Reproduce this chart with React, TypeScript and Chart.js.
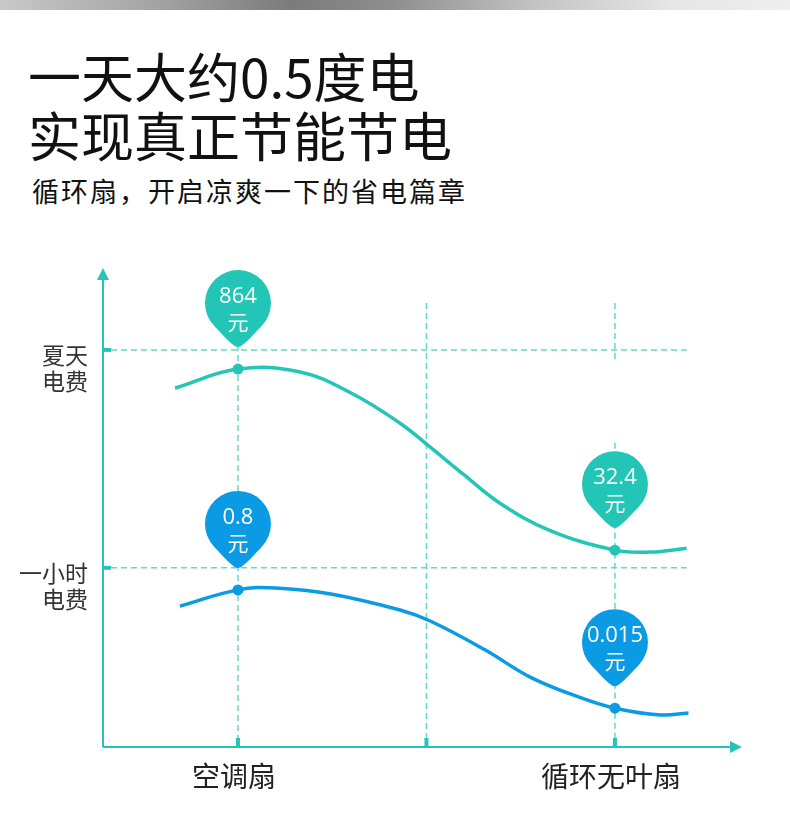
import React, { useEffect, useRef } from "react";
import { Chart, registerables } from "chart.js";
Chart.register(...registerables);

// ---- data ----
const categories = ["空调扇", "循环无叶扇"];
const categoryX = [1, 3];
const midX = 2;

const summerX = [0.666, 1, 1.33, 1.6, 1.86, 2.02, 2.2, 2.39, 2.65, 3, 3.19, 3.38];
const summerY = [74.9, 78.9, 78.3, 73.9, 67.6, 62.6, 56.8, 50.9, 45.3, 41.1, 40.7, 41.5];
const hourX = [0.692, 1, 1.2, 1.5, 1.86, 2.02, 2.31, 2.55, 2.81, 3, 3.24, 3.39];
const hourY = [29.4, 32.8, 33.2, 31.9, 28.6, 26.3, 20.3, 14.6, 10.4, 8.1, 6.7, 7.1];

const summerPins = ["864", "32.4"];
const hourPins = ["0.8", "0.015"];
const pinUnit = "元";

const levelValues = [82.9, 37.4];
const levelLabels = [["夏天", "电费"], ["一小时", "电费"]];

const TEAL = "#23c6b6";
const BLUE = "#0b9be4";
const DASH = "#5fd9cc";

function drawPin(ctx: CanvasRenderingContext2D, x: number, tipY: number, color: string, value: string) {
  const r = 33;
  const h = 44;
  const cy = tipY - h;
  const a = 0.8;
  const px = r * Math.sin(a);
  const py = r * Math.cos(a);
  const k = 10;
  ctx.save();
  ctx.beginPath();
  ctx.arc(x, cy, r, Math.PI / 2 + a, Math.PI / 2 - a);
  ctx.bezierCurveTo(x + px - Math.cos(a) * k, cy + py + Math.sin(a) * k, x + 5, tipY, x, tipY);
  ctx.bezierCurveTo(x - 5, tipY, x - px + Math.cos(a) * k, cy + py + Math.sin(a) * k, x - px, cy + py);
  ctx.closePath();
  ctx.fillStyle = color;
  ctx.fill();
  ctx.fillStyle = "#ffffff";
  ctx.textAlign = "center";
  ctx.textBaseline = "middle";
  ctx.font = '22px "Open Sans", "Noto Sans", sans-serif';
  ctx.fillText(value, x, cy - 6);
  ctx.font = '21px "Noto Sans CJK SC", sans-serif';
  ctx.fillText(pinUnit, x, cy + 19);
  ctx.restore();
}

const decorPlugin = {
  id: "decor",
  beforeDatasetsDraw(chart: any) {
    const ctx: CanvasRenderingContext2D = chart.ctx;
    const xs = chart.scales.x;
    const ys = chart.scales.y;
    const left = xs.getPixelForValue(xs.min);
    const right = xs.getPixelForValue(xs.max);
    const bottom = ys.getPixelForValue(0);
    const top = ys.getPixelForValue(ys.max);
    ctx.save();

    // dashed guides
    ctx.strokeStyle = DASH;
    ctx.lineWidth = 1.5;
    ctx.setLineDash([6, 4]);
    const hEnd = xs.getPixelForValue(3.38);
    levelValues.forEach((v) => {
      const y = ys.getPixelForValue(v);
      ctx.beginPath();
      ctx.moveTo(left + 8, y);
      ctx.lineTo(hEnd, y);
      ctx.stroke();
    });
    const vSegs: [number, number, number][] = [
      [categoryX[0], 83.9, 0],
      [midX, 92.7, 0],
      [categoryX[1], 92.7, 80.4],
      [categoryX[1], 63.5, 0],
    ];
    vSegs.forEach(([xv, y1, y2]) => {
      const x = xs.getPixelForValue(xv);
      ctx.beginPath();
      ctx.moveTo(x, ys.getPixelForValue(y1));
      ctx.lineTo(x, ys.getPixelForValue(y2));
      ctx.stroke();
    });
    ctx.setLineDash([]);

    // axes
    ctx.strokeStyle = TEAL;
    ctx.fillStyle = TEAL;
    ctx.lineWidth = 2;
    ctx.beginPath();
    ctx.moveTo(left, bottom);
    ctx.lineTo(left, top + 10);
    ctx.moveTo(left, bottom);
    ctx.lineTo(right - 10, bottom);
    ctx.stroke();
    ctx.beginPath();
    ctx.moveTo(left, top);
    ctx.lineTo(left - 6, top + 12);
    ctx.lineTo(left + 6, top + 12);
    ctx.closePath();
    ctx.fill();
    ctx.beginPath();
    ctx.moveTo(right, bottom);
    ctx.lineTo(right - 12, bottom - 6);
    ctx.lineTo(right - 12, bottom + 6);
    ctx.closePath();
    ctx.fill();

    // ticks
    levelValues.forEach((v) => {
      const y = ys.getPixelForValue(v);
      ctx.fillRect(left, y - 2, 8, 4);
    });
    [categoryX[0], midX, categoryX[1]].forEach((xv) => {
      const x = xs.getPixelForValue(xv);
      ctx.fillRect(x - 2, bottom - 9, 4, 9);
    });

    // y labels
    ctx.fillStyle = "#333333";
    ctx.font = '23px "Noto Sans CJK SC", sans-serif';
    ctx.textAlign = "right";
    ctx.textBaseline = "middle";
    levelValues.forEach((v, i) => {
      const y = ys.getPixelForValue(v);
      levelLabels[i].forEach((line, j) => {
        ctx.fillText(line, left - 15, y + 5 + j * 26);
      });
    });

    // category labels
    ctx.fillStyle = "#222222";
    ctx.font = '28px "Noto Sans CJK SC", sans-serif';
    ctx.textAlign = "center";
    categories.forEach((c, i) => {
      const x = xs.getPixelForValue(categoryX[i]);
      ctx.fillText(c, x - 4, bottom + 29);
    });
    ctx.restore();
  },
  afterDatasetsDraw(chart: any) {
    const ctx: CanvasRenderingContext2D = chart.ctx;
    const sets = [
      { idx: 0, pins: summerPins, xsArr: summerX, color: TEAL },
      { idx: 1, pins: hourPins, xsArr: hourX, color: BLUE },
    ];
    sets.forEach((s) => {
      const meta = chart.getDatasetMeta(s.idx);
      categoryX.forEach((cx, i) => {
        const di = s.xsArr.indexOf(cx);
        const el = meta.data[di];
        if (!el) return;
        drawPin(ctx, el.x, el.y - 22, s.color, s.pins[i]);
      });
    });
  },
};

export default function App() {
  const ref = useRef<HTMLCanvasElement | null>(null);
  useEffect(() => {
    document.body.style.margin = "0";
    if (!ref.current) return;
    const mk = (xa: number[], ya: number[]) => xa.map((x, i) => ({ x, y: ya[i] }));
    const ptR = (c: any) => (c.raw && categoryX.includes(c.raw.x) ? 5.5 : 0);
    const chart = new Chart(ref.current, {
      type: "line",
      data: {
        datasets: [
          {
            data: mk(summerX, summerY),
            borderColor: TEAL,
            backgroundColor: TEAL,
            borderWidth: 3.5,
            tension: 0.4,
            pointRadius: ptR,
            pointBorderWidth: 0,
          },
          {
            data: mk(hourX, hourY),
            borderColor: BLUE,
            backgroundColor: BLUE,
            borderWidth: 3.5,
            tension: 0.4,
            pointRadius: ptR,
            pointBorderWidth: 0,
          },
        ],
      },
      options: {
        responsive: false,
        animation: false,
        layout: { padding: { left: 103, right: 48, top: 268, bottom: 72 } },
        scales: {
          x: { type: "linear", min: 0.284, max: 3.674, display: false },
          y: { type: "linear", min: 0, max: 100, display: false },
        },
        plugins: { legend: { display: false }, tooltip: { enabled: false } },
      },
      plugins: [decorPlugin],
    } as any);
    return () => chart.destroy();
  }, []);

  const font = '"Noto Sans CJK SC", sans-serif';
  return (
    <div style={{ position: "absolute", left: 0, top: 0, width: 790, height: 819, background: "#fff", overflow: "hidden" }}>
      <div
        style={{
          position: "absolute",
          left: 0,
          top: 0,
          width: 790,
          height: 10,
          background:
            "linear-gradient(to right, #c8c8c8 0%, #a3a3a3 20%, #7b7b7b 37%, #8f8f8f 50%, #c4c4c4 68%, #e6e6e6 85%, #eeeeee 100%)",
        }}
      />
      <div style={{ position: "absolute", left: 28, top: 49, fontFamily: font, fontSize: 53, lineHeight: "53px", color: "#111", whiteSpace: "nowrap" }}>
        一天大约0.5度电
      </div>
      <div style={{ position: "absolute", left: 28, top: 108, fontFamily: font, fontSize: 53, lineHeight: "53px", color: "#111", whiteSpace: "nowrap" }}>
        实现真正节能节电
      </div>
      <div style={{ position: "absolute", left: 32, top: 177, fontFamily: font, fontSize: 27, lineHeight: "27px", color: "#111", whiteSpace: "nowrap", letterSpacing: 2 }}>
        循环扇，开启凉爽一下的省电篇章
      </div>
      <canvas ref={ref} width={790} height={819} style={{ position: "absolute", left: 0, top: 0, width: 790, height: 819 }} />
    </div>
  );
}
